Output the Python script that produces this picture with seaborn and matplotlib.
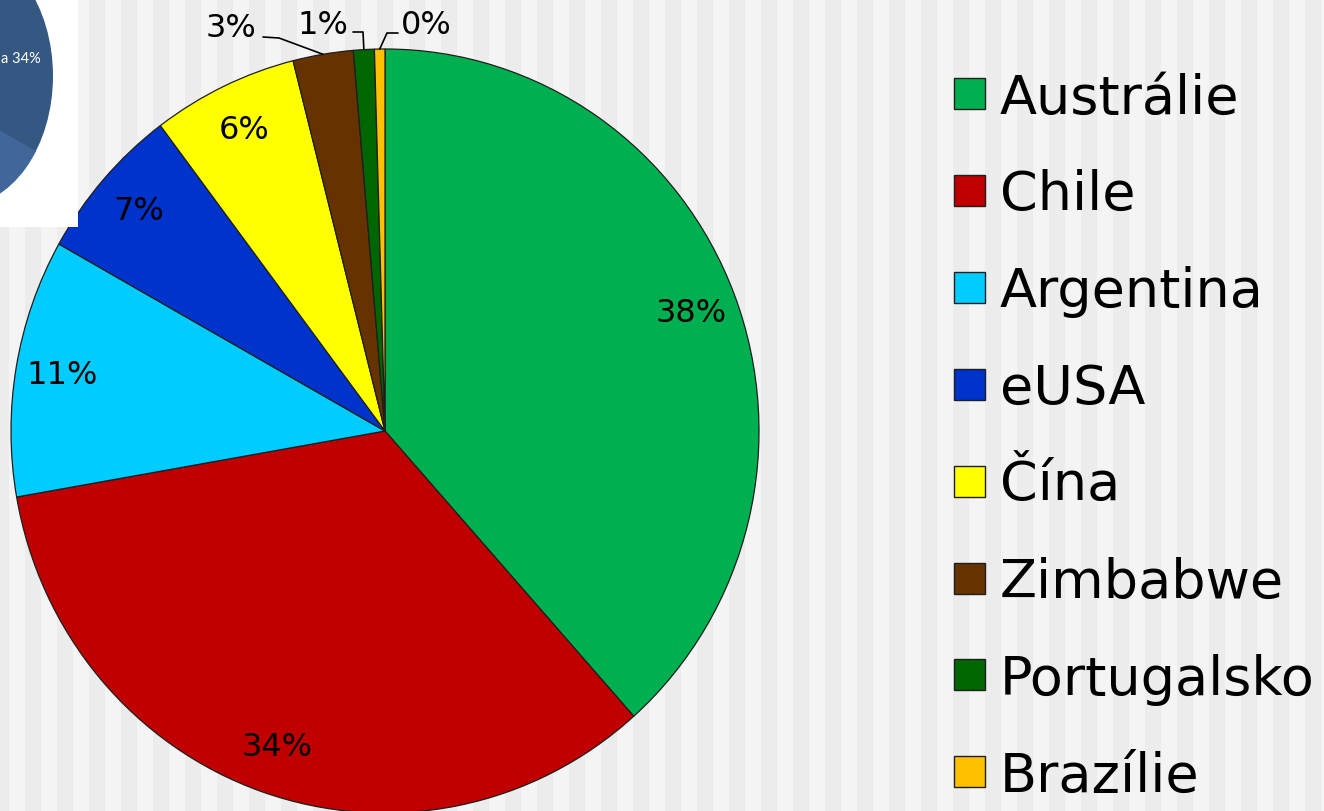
import matplotlib
matplotlib.use("Agg")
import matplotlib.pyplot as plt
from matplotlib.patches import Rectangle, Ellipse, Polygon
import numpy as np
import seaborn as sns

# Production shares by country (%)
countries = ["Austrálie", "Chile", "Argentina", "eUSA", "Čína", "Zimbabwe", "Portugalsko", "Brazílie"]
shares = [38.4, 33.8, 10.9, 6.6, 6.3, 2.6, 0.9, 0.45]
slice_colors = ["#00b050", "#c00000", "#00ccff", "#0033cc", "#ffff00", "#663300", "#006600", "#ffc000"]

sns.set_theme(style="white")
plt.rcParams["font.family"] = ["DejaVu Sans"]
palette = sns.color_palette(slice_colors)

W, H = 1324, 812
fig = plt.figure(figsize=(W / 100, H / 100), dpi=100)
fig.patch.set_facecolor("#f4f4f4")

# striped backdrop
bg = fig.add_axes([0, 0, 1, 1], zorder=0)
bg.set_xlim(0, W)
bg.set_ylim(H, 0)
bg.axis("off")
for x0 in range(-7, W, 32):
    bg.axvspan(x0, x0 + 16, color="#ececec", lw=0)

# pie placement (pixel centre and radii)
cx, cy, rx, ry = 385, 432, 374, 382
ax = fig.add_axes([(cx - rx) / W, (H - cy - ry) / H, 2 * rx / W, 2 * ry / H], zorder=2)
ax.patch.set_alpha(0)


def px(x, y):
    """pixel position -> pie data coordinates"""
    return (x - cx) / rx, (cy - y) / ry


wedges, texts, autotexts = ax.pie(
    shares,
    colors=palette,
    startangle=90,
    counterclock=False,
    autopct="%.0f%%",
    pctdistance=0.875,
    wedgeprops=dict(edgecolor="#1e1e1e", linewidth=0.9),
    textprops=dict(fontsize=23, color="black"),
)
ax.set_aspect("auto")
ax.set_xlim(-1, 1)
ax.set_ylim(-1, 1)
ax.axis("off")
for w in wedges:
    w.set_clip_on(False)

# small slices get outside labels with leader lines
outside = {
    5: dict(elbow=(279, 39), end=(263, 38), text=(256, 37), ha="right"),
    6: dict(elbow=(363, 33), end=(353, 33), text=(348, 34), ha="right"),
    7: dict(elbow=(387, 34), end=(398, 34), text=(401, 34), ha="left"),
}
for i, spec in outside.items():
    at = autotexts[i]
    at.set_visible(False)
    w = wedges[i]
    mid = np.deg2rad((w.theta1 + w.theta2) / 2)
    p0 = (np.cos(mid), np.sin(mid))
    e = px(*spec["elbow"])
    n = px(*spec["end"])
    ax.plot([p0[0], e[0], n[0]], [p0[1], e[1], n[1]], color="black", lw=1.2, clip_on=False)
    t = px(*spec["text"])
    ax.text(t[0], t[1], at.get_text(), ha=spec["ha"], va="baseline", fontsize=23,
            color="black", clip_on=False)

# legend
for i, (name, col) in enumerate(zip(countries, palette)):
    yc = 94.5 + i * 96.9
    fig.patches.append(Rectangle((954 / W, 1 - (yc + 15.5) / H), 31 / W, 31 / H,
                                 transform=fig.transFigure, facecolor=col,
                                 edgecolor="#1e1e1e", lw=1.0, zorder=3))
    fig.text(1000 / W, 1 - (yc + 19) / H, name, fontsize=39, va="baseline",
             ha="left", color="black", zorder=3)

# embedded thumbnail in the corner
ins = fig.add_axes([0, 1 - 228 / H, 78 / W, 228 / H], zorder=4)
ins.set_xlim(0, 78)
ins.set_ylim(228, 0)
ins.set_facecolor("white")
ins.set_xticks([])
ins.set_yticks([])
for s in ins.spines.values():
    s.set_visible(False)
disc = Ellipse((-40, 77), 186, 260, facecolor="#355882", edgecolor="none")
ins.add_patch(disc)
light = Polygon([(-100, 74), (100, 189), (100, 300), (-100, 300)], facecolor="#41679a",
                edgecolor="none")
ins.add_patch(light)
light.set_clip_path(disc)
ins.text(1, 59, "a 34%", color="white", fontsize=10.5, ha="left", va="center",
         family=["Lato", "DejaVu Sans"])

fig.savefig("out.png", dpi=100)
